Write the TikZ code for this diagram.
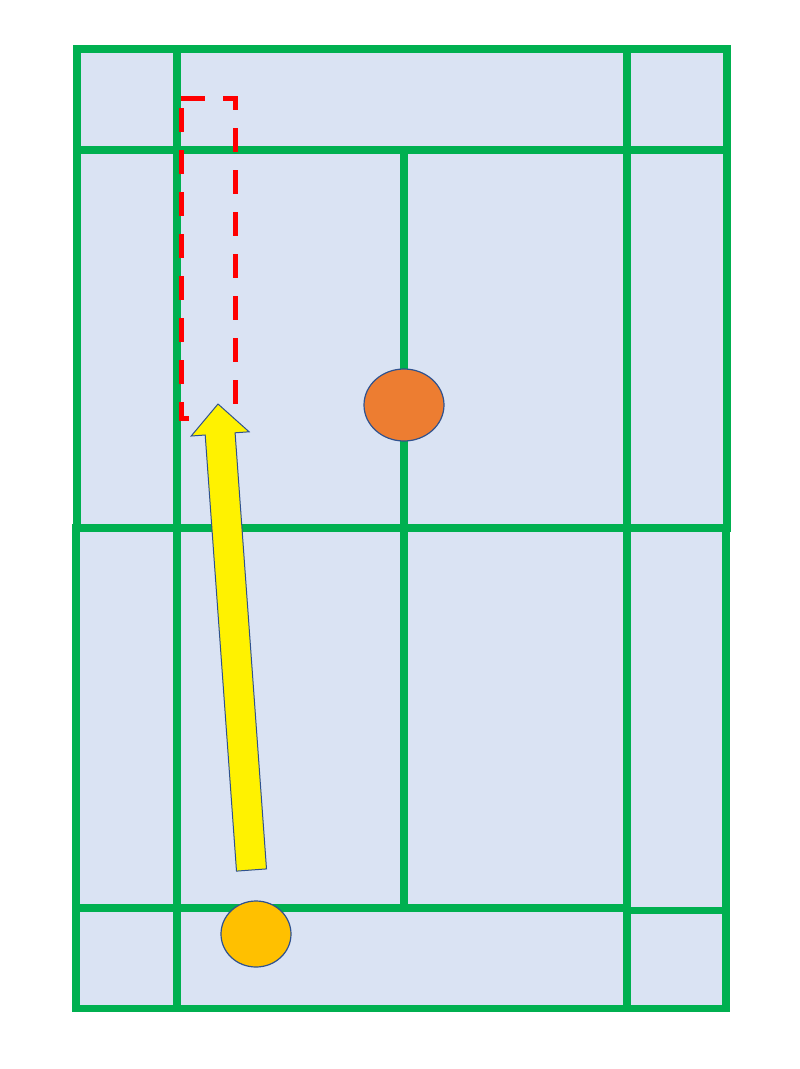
\documentclass[tikz,border=0pt]{standalone}
\usetikzlibrary{shapes.geometric}
\definecolor{court}{HTML}{DAE3F3}
\definecolor{lines}{HTML}{00B050}
\definecolor{outl}{HTML}{2F528F}
\definecolor{orng}{HTML}{ED7D31}
\definecolor{gold}{HTML}{FFC000}
\tikzset{
  courtline/.style={draw=lines, line width=7.5pt},
  zone/.style={draw=red, line width=5pt, dash pattern=on 24pt off 18pt},
  player/.style={ellipse, draw=outl, line width=1.2pt, inner sep=0pt},
  shot/.style={draw=outl, line width=1pt, fill=yellow, line join=miter}
}
\begin{document}
\begin{tikzpicture}[x=1pt,y=-1pt]
\useasboundingbox (0,0) rectangle (800,1069);
% court fill
\fill[court] (77,49) rectangle (727,1009);
% outer boundaries (two halves)
\draw[courtline] (77,49) rectangle (727,528);
\draw[courtline] (76,528) rectangle (726,1008.5);
% side lines (singles)
\draw[courtline] (177,49) -- (177,1007);
\draw[courtline] (627,49) -- (627,1007);
% long service lines
\draw[courtline] (77,150) -- (727,150);
\draw[courtline] (76,908) -- (627,908);
\draw[courtline] (627,910.5) -- (727,910.5);
% centre line
\draw[courtline] (404,150) -- (404,908);
% target zone
\draw[zone] (181,98) -- (235,98) -- (235,418) -- (181,418) -- cycle;
% players
\node[player, fill=orng, minimum width=80pt, minimum height=72pt] (p1) at (404,405) {};
\node[player, fill=gold, minimum width=70pt, minimum height=66pt] (p2) at (256,934) {};
% shot arrow
\draw[shot] (236.5,871.1) -- (205.2,435.0) -- (191.2,436.0) -- (218,404)
  -- (249.1,431.8) -- (235.1,432.8) -- (266.5,868.9) -- cycle;
\end{tikzpicture}
\end{document}
